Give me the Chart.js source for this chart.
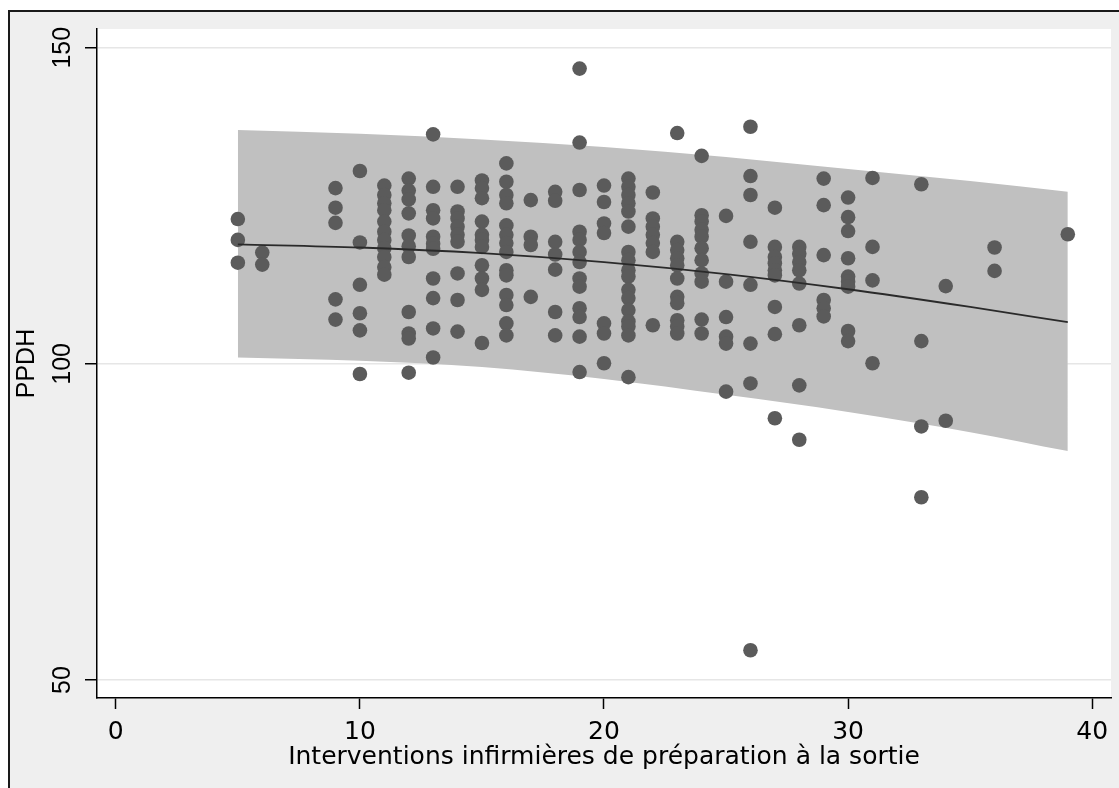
<!DOCTYPE html>
<html>
<head>
<meta charset="utf-8">
<title>PPDH</title>
<script src="https://cdn.jsdelivr.net/npm/chart.js@4"></script>
<style>
  html, body { margin: 0; padding: 0; background: #fff; }
  canvas { display: block; }
</style>
</head>
<body>
<canvas id="scatterChart" width="1119" height="788"></canvas>
<script>
// x columns (number of interventions) and the PPDH values seen in each column
const interventions = [5, 6, 9, 10, 11, 12, 13, 14, 15, 16, 17, 18, 19, 20, 21, 22, 23, 24, 25, 26, 27, 28, 29, 30, 31, 33, 34, 36, 39];
const ppdhValues = [
  [122.9, 119.6, 116.0],
  [117.6, 115.7],
  [127.8, 124.7, 122.3, 110.2, 107.0],
  [130.5, 119.2, 112.5, 108.0, 105.3, 98.4],
  [128.2, 126.7, 125.4, 124.3, 122.5, 120.9, 119.6, 118.3, 116.9, 115.3, 114.1],
  [129.3, 127.4, 126.0, 123.8, 120.3, 118.6, 116.9, 108.2, 104.8, 104.0, 98.6],
  [136.3, 128.0, 124.3, 123.0, 120.1, 119.0, 118.2, 113.5, 110.4, 105.6, 101.0],
  [128.0, 124.1, 123.0, 121.7, 120.4, 119.3, 114.3, 110.1, 105.1],
  [129.0, 127.8, 126.2, 122.5, 120.4, 119.6, 118.5, 115.6, 113.5, 111.7, 103.3],
  [131.7, 128.8, 126.7, 125.4, 121.9, 120.4, 119.1, 117.7, 114.8, 114.0, 110.9, 109.3, 106.4, 104.5],
  [125.9, 120.1, 118.8, 110.6],
  [127.2, 125.8, 119.3, 117.3, 114.9, 108.2, 104.5],
  [146.7, 135.0, 127.5, 120.9, 119.6, 117.7, 116.1, 113.5, 112.2, 108.8, 107.4, 104.3, 98.7],
  [128.2, 125.6, 122.2, 120.7, 106.4, 104.8, 100.1],
  [129.3, 128.0, 126.7, 125.4, 124.1, 121.7, 117.7, 116.4, 114.8, 113.8, 111.7, 110.4, 108.5, 106.7, 105.9, 104.5, 97.9],
  [127.1, 123.0, 121.7, 120.4, 119.1, 117.7, 106.1],
  [136.5, 119.3, 118.0, 116.7, 115.6, 113.5, 110.6, 109.6, 106.9, 105.9, 104.8],
  [132.9, 123.5, 122.5, 121.2, 120.1, 118.3, 116.4, 114.3, 113.0, 107.0, 104.8],
  [123.4, 113.0, 107.4, 104.3, 103.2, 95.6],
  [137.5, 129.7, 126.7, 119.3, 112.5, 103.2, 96.9, 54.7],
  [124.7, 118.5, 116.9, 115.9, 114.8, 114.0, 109.0, 104.7, 91.4],
  [118.5, 117.4, 116.1, 114.8, 112.7, 106.1, 96.6, 88.0],
  [129.3, 125.1, 117.2, 110.1, 108.8, 107.5],
  [126.3, 123.2, 121.0, 116.7, 113.8, 113.0, 112.2, 105.2, 103.6],
  [129.4, 118.5, 113.2, 100.1],
  [128.4, 103.6, 90.1, 78.9],
  [112.3, 91.0],
  [118.4, 114.7],
  [120.5]
];

const fitX = [5, 10, 15, 20, 25, 30, 35, 39];
const fitY = [118.9, 118.4, 117.5, 116.1, 114.2, 111.8, 109.0, 106.6];
const ciUpper = [137.0, 136.4, 135.5, 134.3, 132.7, 130.8, 128.9, 127.2];
const ciLower = [101.0, 100.5, 99.5, 97.6, 95.1, 92.4, 89.2, 86.2];

const xTicks = [0, 10, 20, 30, 40];
const yTicks = [50, 100, 150];

const scatterPoints = [];
interventions.forEach((x, i) => {
  ppdhValues[i].forEach(y => scatterPoints.push({ x: x, y: y }));
});
const toXY = (ys) => fitX.map((x, i) => ({ x: x, y: ys[i] }));

// grey outer region with the frame, white plot region
const stataBackground = {
  id: 'stataBackground',
  beforeDraw(chart) {
    const { ctx, width, height, chartArea } = chart;
    ctx.save();
    ctx.fillStyle = '#ffffff';
    ctx.fillRect(0, 0, width, height);
    ctx.fillStyle = '#efefef';
    ctx.fillRect(9, 11, width - 9, height - 11);
    ctx.strokeStyle = '#1a1a1a';
    ctx.lineWidth = 2;
    ctx.beginPath();
    ctx.moveTo(9, height);
    ctx.lineTo(9, 11);
    ctx.lineTo(width, 11);
    ctx.stroke();
    ctx.fillStyle = '#ffffff';
    ctx.fillRect(chartArea.left, chartArea.top, chartArea.right - chartArea.left, chartArea.bottom - chartArea.top);
    ctx.restore();
  }
};

const xFont = { family: 'DejaVu Sans', size: 25 };
const yFont = { family: 'Liberation Sans', size: 25 };

const ctx = document.getElementById('scatterChart').getContext('2d');
new Chart(ctx, {
  type: 'scatter',
  data: {
    datasets: [
      {
        type: 'line',
        data: toXY(fitY),
        borderColor: '#2a2a2a',
        borderWidth: 1.8,
        pointRadius: 0,
        cubicInterpolationMode: 'monotone',
        fill: false,
        order: 0
      },
      {
        data: scatterPoints,
        backgroundColor: '#5b5b5b',
        borderWidth: 0,
        pointRadius: 7.3,
        pointHoverRadius: 7.3,
        order: 1
      },
      {
        type: 'line',
        data: toXY(ciUpper),
        borderWidth: 0,
        borderColor: 'rgba(0,0,0,0)',
        backgroundColor: '#c0c0c0',
        pointRadius: 0,
        cubicInterpolationMode: 'monotone',
        fill: '+1',
        order: 2
      },
      {
        type: 'line',
        data: toXY(ciLower),
        borderWidth: 0,
        borderColor: 'rgba(0,0,0,0)',
        pointRadius: 0,
        cubicInterpolationMode: 'monotone',
        fill: false,
        order: 3
      }
    ]
  },
  options: {
    responsive: false,
    animation: false,
    devicePixelRatio: 1,
    layout: { padding: { left: 0, top: 29, right: 8, bottom: 0 } },
    plugins: {
      legend: { display: false },
      tooltip: { enabled: false }
    },
    scales: {
      x: {
        type: 'linear',
        min: -0.77,
        max: 40.77,
        afterBuildTicks: (scale) => { scale.ticks = xTicks.map(v => ({ value: v })); },
        afterFit: (scale) => { scale.height = 90; },
        grid: { drawOnChartArea: false, tickLength: 11, tickWidth: 1.5, tickColor: '#000' },
        border: { color: '#000', width: 1.5 },
        ticks: { font: xFont, color: '#000', padding: 8, maxRotation: 0, autoSkip: false },
        title: {
          display: true,
          text: 'Interventions infirmières de préparation à la sortie',
          font: xFont,
          color: '#000',
          padding: { top: 0, bottom: 16 }
        }
      },
      y: {
        type: 'linear',
        min: 47.15,
        max: 152.96,
        afterBuildTicks: (scale) => { scale.ticks = yTicks.map(v => ({ value: v })); },
        afterFit: (scale) => { scale.width = 97; },
        grid: { color: '#e6e6e6', lineWidth: 1.5, tickLength: 12, tickWidth: 1.5, tickColor: '#000' },
        border: { color: '#000', width: 1.5 },
        ticks: { font: yFont, color: '#000', padding: 1, minRotation: 90, maxRotation: 90, crossAlign: 'center' },
        title: {
          display: true,
          text: 'PPDH',
          font: yFont,
          color: '#000',
          padding: { top: 12.5, bottom: 0 }
        }
      }
    }
  },
  plugins: [stataBackground]
});
</script>
</body>
</html>
